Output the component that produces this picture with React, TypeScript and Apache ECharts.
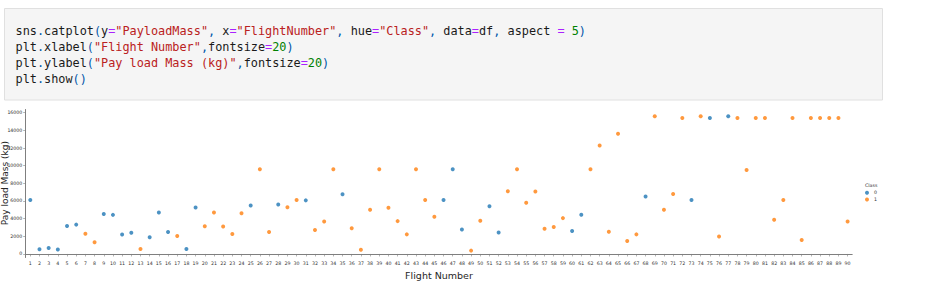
import React, { useEffect, useRef } from "react";
import * as echarts from "echarts";

// ---- data ----
const flightNumbers = [
  1, 2, 3, 4, 5, 6, 7, 8, 9, 10, 11, 12, 13, 14, 15, 16, 17, 18, 19, 20,
  21, 22, 23, 24, 25, 26, 27, 28, 29, 30, 31, 32, 33, 34, 35, 36, 37, 38, 39, 40,
  41, 42, 43, 44, 45, 46, 47, 48, 49, 50, 51, 52, 53, 54, 55, 56, 57, 58, 59, 60,
  61, 62, 63, 64, 65, 66, 67, 68, 69, 70, 71, 72, 73, 74, 75, 76, 77, 78, 79, 80,
  81, 82, 83, 84, 85, 86, 87, 88, 89, 90,
];
const payloadMass = [
  6105, 525, 677, 500, 3170, 3325, 2296, 1316, 4535, 4428,
  2216, 2395, 570, 1898, 4707, 2477, 2034, 553, 5271, 3136,
  4696, 3100, 2257, 4600, 5500, 9600, 2490, 5600, 5300, 6105,
  6070, 2708, 3669, 9600, 6761, 2910, 475, 5000, 9600, 5230,
  3720, 2220, 9600, 6105, 4210, 6105, 9600, 2780, 380, 3760,
  5410, 2440, 7100, 9600, 5790, 7070, 2860, 3050, 4060, 2590,
  4440, 9600, 12290, 2520, 13610, 1470, 2220, 6500, 15600, 5000,
  6800, 15400, 6105, 15600, 15400, 1990, 15600, 15400, 9510, 15400,
  15400, 3870, 6105, 15400, 1580, 15400, 15400, 15400, 15400, 3680,
];
const landingClass = [
  0, 0, 0, 0, 0, 0, 1, 1, 0, 0,
  0, 0, 1, 0, 0, 0, 1, 0, 0, 1,
  1, 1, 1, 1, 0, 1, 1, 0, 1, 1,
  0, 1, 1, 1, 0, 1, 1, 1, 1, 1,
  1, 1, 1, 1, 1, 0, 0, 0, 1, 1,
  0, 0, 1, 1, 1, 1, 1, 1, 1, 0,
  0, 1, 1, 1, 1, 1, 1, 0, 1, 1,
  1, 1, 0, 1, 0, 1, 0, 1, 1, 1,
  1, 1, 1, 1, 1, 1, 1, 1, 1, 1,
];
const classNames = ["0", "1"];
const classColors = ["#1f77b4", "#ff7f0e"];
const yTicks = [0, 2000, 4000, 6000, 8000, 10000, 12000, 14000, 16000];

// code cell tokens: [text, style]
const codeLines: [string, string][][] = [
  [["sns", "d"], [".", "p"], ["catplot", "d"], ["(", "p"], ["y", "d"], ["=", "o"], ['"PayloadMass"', "s"], [",", "p"], [" x", "d"], ["=", "o"], ['"FlightNumber"', "s"], [",", "p"], [" hue", "d"], ["=", "o"], ['"Class"', "s"], [",", "p"], [" data", "d"], ["=", "o"], ["df", "d"], [",", "p"], [" aspect ", "d"], ["=", "o"], [" ", "d"], ["5", "n"], [")", "p"]],
  [["plt", "d"], [".", "p"], ["xlabel", "d"], ["(", "p"], ['"Flight Number"', "s"], [",", "p"], ["fontsize", "d"], ["=", "o"], ["20", "n"], [")", "p"]],
  [["plt", "d"], [".", "p"], ["ylabel", "d"], ["(", "p"], ['"Pay load Mass (kg)"', "s"], [",", "p"], ["fontsize", "d"], ["=", "o"], ["20", "n"], [")", "p"]],
  [["plt", "d"], [".", "p"], ["show", "d"], ["()", "p"]],
];

const MONO = "'DejaVu Sans Mono', 'Liberation Mono', monospace";
const SANS = "'DejaVu Sans', sans-serif";

export default function App() {
  const ref = useRef<HTMLDivElement>(null);

  useEffect(() => {
    if (!ref.current) return;
    const chart = echarts.init(ref.current, null, { renderer: "svg" });

    const codeFont = { fontFamily: MONO, fontSize: 11.85 };
    const rich = {
      d: { ...codeFont, fill: "#1a1a1a" },
      p: { ...codeFont, fill: "#0055aa" },
      o: { ...codeFont, fill: "#aa22ff" },
      s: { ...codeFont, fill: "#ba2121" },
      n: { ...codeFont, fill: "#008000" },
    };
    const lineY = [30.7, 46.7, 62.9, 79.1];
    const codeTexts = codeLines.map((tokens, i) => ({
      type: "text",
      x: 15.5,
      y: lineY[i],
      style: {
        text: tokens
          .map(([t, k]) => `{${k}|${t.replace(/ /g, "\u00a0")}}`)
          .join(""),
        rich,
        verticalAlign: "middle",
        align: "left",
        ...codeFont,
      },
    }));

    const series = classNames.map((name, c) => ({
      name,
      type: "scatter",
      symbol: "circle",
      symbolSize: 4,
      itemStyle: { color: classColors[c] },
      data: flightNumbers
        .map((f, i) => (landingClass[i] === c ? [i, payloadMass[i]] : null))
        .filter((d) => d !== null),
    }));

    chart.setOption({
      animation: false,
      backgroundColor: "#ffffff",
      grid: { left: 25.7, right: 73.8, top: 109.5, bottom: 34.5, containLabel: false },
      xAxis: {
        type: "category",
        data: flightNumbers.map(String),
        boundaryGap: true,
        name: "Flight Number",
        nameLocation: "middle",
        nameGap: 9.5,
        nameTextStyle: { fontFamily: SANS, fontSize: 9.5, color: "#262626" },
        axisLine: { show: true, lineStyle: { color: "#7f7f7f", width: 1 } },
        axisTick: { show: true, alignWithLabel: true, interval: 0, length: 2.5, lineStyle: { color: "#7f7f7f", width: 0.6 } },
        axisLabel: { interval: 0, fontFamily: SANS, fontSize: 4.7, color: "#333333", margin: 3 },
        splitLine: { show: false },
      },
      yAxis: {
        type: "value",
        min: -400,
        max: 16362,
        axisLine: { show: true, lineStyle: { color: "#7f7f7f", width: 1 } },
        axisTick: { show: true, customValues: yTicks, length: 2.5, lineStyle: { color: "#7f7f7f", width: 0.6 } },
        axisLabel: {
          customValues: yTicks,
          formatter: (v: number) => String(v),
          fontFamily: SANS,
          fontSize: 4.7,
          color: "#333333",
          margin: 3.4,
        },
        splitLine: { show: false },
      },
      legend: {
        data: classNames,
        orient: "vertical",
        left: 865,
        top: 190.2,
        padding: 0,
        itemWidth: 4,
        itemHeight: 4,
        itemGap: 1.7,
        icon: "circle",
        textStyle: { fontFamily: SANS, fontSize: 4.7, color: "#333333" },
      },
      series,
      graphic: [
        {
          type: "rect",
          shape: { x: 4.5, y: 8.5, width: 878, height: 91.5 },
          style: { fill: "#f5f5f5", stroke: "#e0e0e0", lineWidth: 1 },
          z: -1,
        },
        ...codeTexts,
        {
          type: "text",
          x: 5.2,
          y: 183.2,
          rotation: Math.PI / 2,
          style: {
            text: "Pay load Mass (kg)",
            fontFamily: SANS,
            fontSize: 9,
            fill: "#262626",
            align: "center",
            verticalAlign: "middle",
          },
        },
        {
          type: "text",
          x: 865,
          y: 185.7,
          style: {
            text: "Class",
            fontFamily: SANS,
            fontSize: 4.7,
            fill: "#333333",
            align: "left",
            verticalAlign: "middle",
          },
        },
      ],
    });

    return () => chart.dispose();
  }, []);

  return (
    <div
      ref={ref}
      style={{ position: "fixed", left: 0, top: 0, width: 926, height: 292 }}
    />
  );
}
